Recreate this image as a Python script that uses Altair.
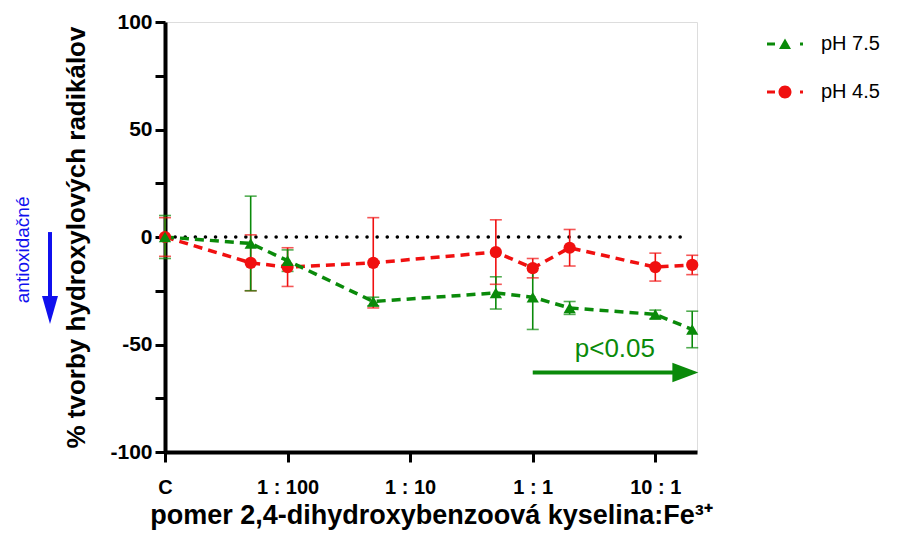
import altair as alt
import pandas as pd
import numpy as np

# ---- data ----
ratio_labels = ["C", "1:200", "1:100", "1:20", "1:2", "1:1", "2:1", "10:1", "20:1"]
ratio_values = [0.001, 0.005, 0.01, 0.05, 0.5, 1, 2, 10, 20]   # C plotted at 1:1000 position
ph75_mean = [0, -3, -11, -30, -26, -28, -33, -36, -43]
ph75_sd = [10, 22, 5, 2, 7.5, 15, 3, 2, 8.5]
ph45_mean = [0, -12, -14, -12, -7, -14.5, -5, -14, -13]
ph45_sd = [9, 13, 9, 21, 15, 4.5, 8.5, 6.5, 4.5]

series_names = ["pH 7.5", "pH 4.5"]
series_colors = ["#0a8a0a", "#f01010"]

x_tick_values = [-3, -2, -1, 0, 1]
x_tick_labels = ["C", "1 : 100", "1 : 10", "1 : 1", "10 : 1"]
y_tick_values = [-100, -75, -50, -25, 0, 25, 50, 75, 100]

x_title = "pomer 2,4-dihydroxybenzoová kyselina:Fe³⁺"
y_title = "% tvorby hydroxylových radikálov"

rows = []
for name, means, sds in [("pH 4.5", ph45_mean, ph45_sd), ("pH 7.5", ph75_mean, ph75_sd)]:
    for lab, r, m, s in zip(ratio_labels, ratio_values, means, sds):
        rows.append({"series": name, "ratio": lab, "lx": float(np.log10(r)),
                     "mean": m, "lo": m - s, "hi": m + s,
                     "order": 0 if name == "pH 4.5" else 1})
df = pd.DataFrame(rows)

FONT = "Liberation Sans"
XDOM = [-3, 1.34]

label_expr = " : ".join(
    [f"datum.value == {v} ? '{t}'" for v, t in zip(x_tick_values, x_tick_labels)]
) + " : ''"

xscale = alt.Scale(domain=XDOM, nice=False, zero=False)
yscale = alt.Scale(domain=[-100, 100], nice=False)
cscale = alt.Scale(domain=series_names, range=series_colors)

x_axis = alt.Axis(values=x_tick_values, labelExpr=label_expr, title=x_title,
                  grid=False, domainColor="black", domainWidth=4, tickColor="black",
                  tickWidth=3, tickSize=10, labelFont=FONT, labelFontSize=20,
                  labelFontWeight="bold", labelColor="black", labelPadding=15,
                  titleFont=FONT, titleFontSize=27, titleFontWeight="bold",
                  titleColor="black", titlePadding=5, labelFlush=False)
y_axis = alt.Axis(values=y_tick_values,
                  labelExpr="datum.value % 50 == 0 ? toString(datum.value) : ''",
                  title=y_title, grid=False, domainColor="black", domainWidth=4,
                  tickColor="black", tickWidth=3, tickSize=10, labelFont=FONT,
                  labelFontSize=21, labelFontWeight="bold", labelColor="black",
                  labelPadding=3, titleFont=FONT, titleFontSize=26,
                  titleFontWeight="bold", titleColor="black", titlePadding=20)

base = alt.Chart(df)

# zero reference line
zero_df = pd.DataFrame({"x": [-3.0], "x2": [1.24], "y": [0]})
zero_line = alt.Chart(zero_df).mark_rule(color="black", strokeWidth=3.5,
                                         strokeDash=[0.1, 10], strokeCap="round").encode(
    x=alt.X("x:Q", scale=xscale, axis=x_axis), x2="x2:Q", y=alt.Y("y:Q", scale=yscale, axis=y_axis))

err_rule = base.mark_rule(strokeWidth=1.6).encode(
    x=alt.X("lx:Q", scale=xscale), y=alt.Y("lo:Q", scale=yscale), y2="hi:Q",
    color=alt.Color("series:N", scale=cscale, legend=None), detail="order:O")
cap_lo = base.mark_tick(thickness=1.6, size=12, orient="horizontal").encode(
    x=alt.X("lx:Q", scale=xscale), y=alt.Y("lo:Q", scale=yscale),
    color=alt.Color("series:N", scale=cscale, legend=None))
cap_hi = base.mark_tick(thickness=1.6, size=12, orient="horizontal").encode(
    x=alt.X("lx:Q", scale=xscale), y=alt.Y("hi:Q", scale=yscale),
    color=alt.Color("series:N", scale=cscale, legend=None))

lines = base.mark_line(strokeWidth=3.5, strokeDash=[9, 6]).encode(
    x=alt.X("lx:Q", scale=xscale), y=alt.Y("mean:Q", scale=yscale),
    color=alt.Color("series:N", scale=cscale, legend=None), detail="series:N",
    order="lx:Q")

points = base.mark_point(filled=True, opacity=1, size=150).encode(
    x=alt.X("lx:Q", scale=xscale), y=alt.Y("mean:Q", scale=yscale),
    color=alt.Color("series:N", scale=cscale, legend=None),
    shape=alt.Shape("series:N", scale=alt.Scale(domain=series_names,
                                                range=["triangle-up", "circle"]), legend=None),
    order="order:Q")

# legend carrier (invisible marks, visible legend)
tri_sym = ("M-1.8,-0.15 L-1.0,-0.15 L-1.0,0.15 L-1.8,0.15 Z "
           "M-0.6,0.5 L0.6,0.5 L0,-0.55 Z "
           "M1.5,-0.15 L1.8,-0.15 L1.8,0.15 L1.5,0.15 Z")
cir_sym = ("M-1.8,-0.15 L-1.0,-0.15 L-1.0,0.15 L-1.8,0.15 Z "
           "M-0.65,0 A0.65,0.65 0 1,0 0.65,0 A0.65,0.65 0 1,0 -0.65,0 Z "
           "M1.5,-0.15 L1.8,-0.15 L1.8,0.15 L1.5,0.15 Z")
leg = alt.Legend(title=None, orient="none", legendX=610, legendY=12, labelFont=FONT,
                 labelFontSize=20, labelColor="black", symbolSize=400, symbolOpacity=1,
                 rowPadding=28, labelOffset=26, symbolStrokeWidth=0)
legend_layer = base.mark_point(filled=True, opacity=0, size=1).encode(
    x=alt.X("lx:Q", scale=xscale), y=alt.Y("mean:Q", scale=yscale),
    color=alt.Color("series:N", scale=alt.Scale(domain=series_names, range=series_colors),
                    legend=leg),
    shape=alt.Shape("series:N", scale=alt.Scale(domain=series_names, range=[tri_sym, cir_sym]),
                    legend=leg))

# significance arrow
sig_df = pd.DataFrame({"x": [0.0], "x2": [1.2], "y": [-63], "hx": [1.245],
                       "tx": [0.67], "ty": [-52], "t": ["p<0.05"]})
sig_rule = alt.Chart(sig_df).mark_rule(color="#0a8a0a", strokeWidth=4).encode(
    x=alt.X("x:Q", scale=xscale), x2="x2:Q", y=alt.Y("y:Q", scale=yscale))
sig_head = alt.Chart(sig_df).mark_point(filled=True, opacity=1, color="#0a8a0a", size=676,
                                        shape="M-1,-0.75 L1,0 L-1,0.75 Z").encode(
    x=alt.X("hx:Q", scale=xscale), y=alt.Y("y:Q", scale=yscale))
sig_text = alt.Chart(sig_df).mark_text(font=FONT, fontSize=26, color="#0a8a0a",
                                       align="center", baseline="middle").encode(
    x=alt.X("tx:Q", scale=xscale), y=alt.Y("ty:Q", scale=yscale), text="t:N")

# antioxidant annotation (left margin)
anti_df = pd.DataFrame({"y": [2.3], "y2": [-29], "hy": [-34], "ty": [-6], "t": ["antioxidačné"]})
anti_rule = alt.Chart(anti_df).mark_rule(color="#1010ee", strokeWidth=4).encode(
    x=alt.value(-115), y=alt.Y("y:Q", scale=yscale), y2="y2:Q")
anti_head = alt.Chart(anti_df).mark_point(filled=True, opacity=1, color="#1010ee", size=784,
                                          shape="M-0.57,-1 L0,1 L0.57,-1 Z").encode(
    x=alt.value(-115), y=alt.Y("hy:Q", scale=yscale))
anti_text = alt.Chart(anti_df).mark_text(font=FONT, fontSize=19, color="#1010ee", angle=270,
                                         align="center", baseline="middle").encode(
    x=alt.value(-142), y=alt.Y("ty:Q", scale=yscale), text="t:N")

chart = alt.layer(
    zero_line, err_rule, cap_lo, cap_hi, lines, points, legend_layer,
    sig_rule, sig_head, sig_text, anti_rule, anti_head, anti_text
).resolve_scale(color="independent", shape="independent").properties(
    width=532, height=430,
    autosize=alt.AutoSizeParams(type="none"),
    padding={"left": 157, "top": 14, "right": 202, "bottom": 92},
).configure_view(stroke=None).configure(background="white")

chart.save("out.html", embed_options={"renderer": "svg", "actions": False})
